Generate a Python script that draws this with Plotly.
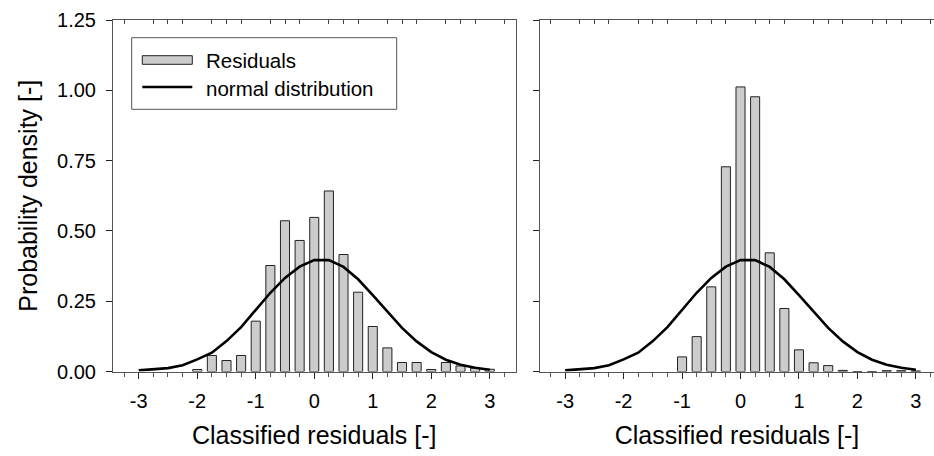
import plotly.graph_objects as go

# ---------------- data ----------------
left_bin_x = [-2.0, -1.75, -1.5, -1.25, -1.0, -0.75, -0.5, -0.25, 0.0, 0.25, 0.5,
              0.75, 1.0, 1.25, 1.5, 1.75, 2.0, 2.25, 2.5, 2.75, 3.0]
left_density = [0.007, 0.057, 0.039, 0.057, 0.179, 0.377, 0.536, 0.466, 0.548, 0.642, 0.416,
                0.282, 0.160, 0.084, 0.032, 0.032, 0.007, 0.032, 0.020, 0.012, 0.008]

right_bin_x = [-1.0, -0.75, -0.5, -0.25, 0.0, 0.25, 0.5, 0.75, 1.0, 1.25, 1.5,
               1.75, 2.0, 2.25, 2.5, 2.75, 3.0]
right_density = [0.052, 0.124, 0.301, 0.728, 1.012, 0.977, 0.422, 0.224, 0.077, 0.031, 0.021,
                 0.004, 0.0, 0.0, 0.003, 0.003, 0.002]

normal_x = [-3.0, -2.75, -2.5, -2.25, -2.0, -1.75, -1.5, -1.25, -1.0, -0.75, -0.5, -0.25,
            0.0, 0.25, 0.5, 0.75, 1.0, 1.25, 1.5, 1.75, 2.0, 2.25, 2.5, 2.75, 3.0]
normal_y = [0.004, 0.007, 0.012, 0.022, 0.043, 0.067, 0.108, 0.158, 0.218, 0.280, 0.333, 0.373,
            0.396, 0.396, 0.372, 0.328, 0.272, 0.212, 0.155, 0.107, 0.069, 0.042, 0.024, 0.013, 0.006]

x_tick_vals = [-3, -2, -1, 0, 1, 2, 3]
x_tick_text = ["-3", "-2", "-1", "0", "1", "2", "3"]
y_tick_vals = [0, 0.25, 0.5, 0.75, 1.0, 1.25]
y_tick_text = ["0.00", "0.25", "0.50", "0.75", "1.00", "1.25"]
top_tick_vals = [v / 4 for v in range(-13, 14) if v % 4 != 0]

x_title = "Classified residuals [-]"
y_title = "Probability density [-]"
legend_labels = ["Residuals", "normal distribution"]

# ---------------- style ----------------
W, H = 934, 456
FONT = "Liberation Sans, Arial, Helvetica, sans-serif"
BAR_FILL = "#cccccc"
BAR_LINE = "#222222"
AXIS_LINE = "#555555"
TICK_COL = "#222222"


def px(x):
    return x / W


def py(y):
    return 1 - y / H


y_dom = [py(371.5), py(20)]
left_dom = [px(113), px(515.5)]
right_dom = [px(540), 1.0]
left_range = [-3.44, 3.44]
right_range = [-3.43, 3.31]

fig = go.Figure()

fig.add_trace(go.Bar(x=left_bin_x, y=left_density, width=0.155, xaxis="x", yaxis="y",
                     marker=dict(color=BAR_FILL, line=dict(color=BAR_LINE, width=1)),
                     name=legend_labels[0], showlegend=False))
fig.add_trace(go.Scatter(x=normal_x, y=normal_y, mode="lines", xaxis="x", yaxis="y",
                         line=dict(color="black", width=2.6), name=legend_labels[1],
                         showlegend=False))
fig.add_trace(go.Bar(x=right_bin_x, y=right_density, width=0.155, xaxis="x2", yaxis="y2",
                     marker=dict(color=BAR_FILL, line=dict(color=BAR_LINE, width=1)),
                     name=legend_labels[0], showlegend=False))
fig.add_trace(go.Scatter(x=normal_x, y=normal_y, mode="lines", xaxis="x2", yaxis="y2",
                         line=dict(color="black", width=2.6), name=legend_labels[1],
                         showlegend=False))
# empty traces to activate the top (mirror) axes
fig.add_trace(go.Scatter(x=[], y=[], xaxis="x3", yaxis="y", showlegend=False, hoverinfo="skip"))
fig.add_trace(go.Scatter(x=[], y=[], xaxis="x4", yaxis="y2", showlegend=False, hoverinfo="skip"))

tickfont = dict(family=FONT, size=20, color="black")
titlefont = dict(family=FONT, size=25, color="black")


def bottom_axis(domain, rng, anchor, title):
    return dict(domain=domain, range=rng, anchor=anchor, showgrid=False, zeroline=False,
                automargin=False,
                showline=True, linecolor=AXIS_LINE, linewidth=1,
                tickmode="array", tickvals=x_tick_vals, ticktext=x_tick_text,
                ticks="outside", ticklen=6, tickwidth=1, tickcolor=TICK_COL,
                minor=dict(tickmode="linear", tick0=0, dtick=0.25, ticks="outside",
                           ticklen=4, tickwidth=1, tickcolor="#555555"),
                tickfont=tickfont, ticklabelstandoff=5,
                title=dict(text=title, font=titlefont, standoff=15))


def top_axis(overlay, rng, anchor):
    return dict(overlaying=overlay, side="top", anchor=anchor, range=rng, showgrid=False,
                zeroline=False, automargin=False,
                showline=True, linecolor=AXIS_LINE, linewidth=1,
                tickmode="array", tickvals=top_tick_vals, ticks="inside", ticklen=4,
                tickwidth=1, tickcolor="#444444", showticklabels=False)


fig.update_layout(
    width=W, height=H,
    margin=dict(l=0, r=0, t=0, b=0, autoexpand=False),
    paper_bgcolor="white", plot_bgcolor="white",
    font=dict(family=FONT, color="black"),
    showlegend=False,
    barmode="overlay",
    xaxis=bottom_axis(left_dom, left_range, "y", x_title),
    xaxis2=bottom_axis(right_dom, right_range, "y2", x_title),
    xaxis3=top_axis("x", left_range, "y"),
    xaxis4=top_axis("x2", right_range, "y2"),
    yaxis=dict(domain=y_dom, range=[0, 1.25], anchor="x", showgrid=False, zeroline=False,
               automargin=False,
               showline=True, mirror=True, linecolor=AXIS_LINE, linewidth=1,
               tickmode="array", tickvals=y_tick_vals, ticktext=y_tick_text,
               ticks="outside", ticklen=6, tickwidth=1, tickcolor=TICK_COL,
               tickfont=tickfont, ticklabelstandoff=6,
               title=dict(text=y_title, font=titlefont, standoff=12)),
    yaxis2=dict(domain=y_dom, range=[0, 1.25], anchor="x2", showgrid=False, zeroline=False,
                automargin=False,
                showline=True, linecolor=AXIS_LINE, linewidth=1,
                tickmode="array", tickvals=y_tick_vals, showticklabels=False,
                ticks="outside", ticklen=6, tickwidth=1, tickcolor=TICK_COL),
)

# ---------------- manual legend ----------------
fig.add_shape(type="rect", xref="paper", yref="paper",
              x0=px(131.7), x1=px(396.7), y0=py(109.3), y1=py(37.7),
              line=dict(color=AXIS_LINE, width=1), fillcolor="white", layer="above")
fig.add_shape(type="rect", xref="paper", yref="paper",
              x0=px(142.3), x1=px(192.3), y0=py(64.3), y1=py(55.7),
              line=dict(color=BAR_LINE, width=1), fillcolor=BAR_FILL, layer="above")
fig.add_shape(type="line", xref="paper", yref="paper",
              x0=px(142.3), x1=px(192.3), y0=py(87), y1=py(87),
              line=dict(color="black", width=2.6), layer="above")
legend_font = dict(family=FONT, size=20.5, color="black")
fig.add_annotation(x=px(204), y=py(60.5), xref="paper", yref="paper", text=legend_labels[0],
                   showarrow=False, xanchor="left", yanchor="middle", font=legend_font)
fig.add_annotation(x=px(204), y=py(88.5), xref="paper", yref="paper", text=legend_labels[1],
                   showarrow=False, xanchor="left", yanchor="middle", font=legend_font)

fig.write_html("out.html")
